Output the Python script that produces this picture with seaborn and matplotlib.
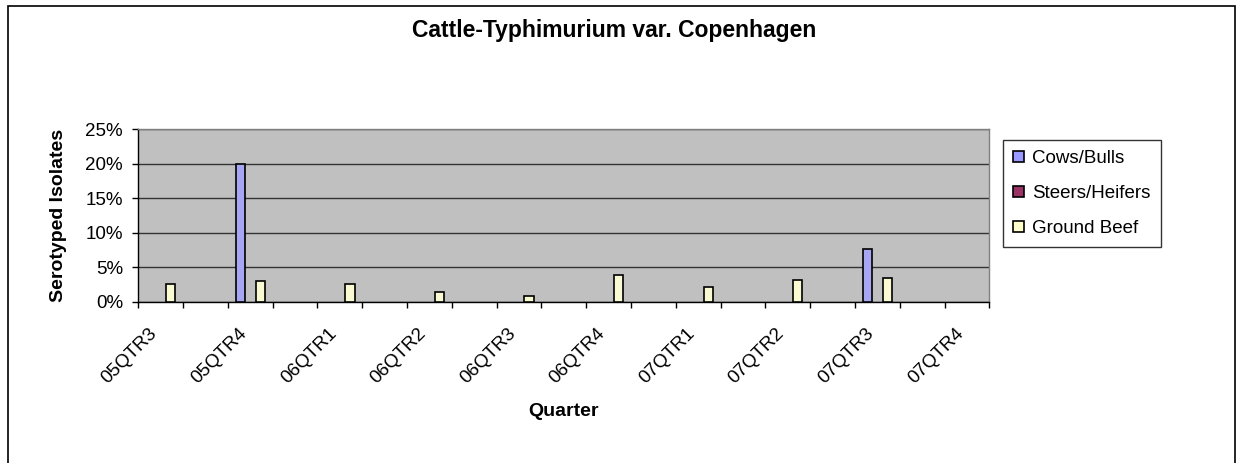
import matplotlib
matplotlib.use("Agg")
import pandas as pd
import matplotlib.pyplot as plt
import seaborn as sns
from matplotlib.patches import Patch, Rectangle
from matplotlib.ticker import PercentFormatter, FixedLocator
from matplotlib.transforms import ScaledTranslation

# ------------------------------
# data (percent of serotyped isolates)

QUARTERS = ["05QTR3", "05QTR4", "06QTR1", "06QTR2", "06QTR3",
            "06QTR4", "07QTR1", "07QTR2", "07QTR3", "07QTR4"]
SERIES = ["Cows/Bulls", "Steers/Heifers", "Ground Beef"]
COWS_BULLS = [0, 20.0, 0, 0, 0, 0, 0, 0, 7.7, 0]
STEERS_HEIFERS = [0, 0, 0, 0, 0, 0, 0, 0, 0, 0]
GROUND_BEEF = [2.5, 3.0, 2.5, 1.4, 0.8, 3.8, 2.2, 3.2, 3.5, 0]
Y_TICKS = [0, 5, 10, 15, 20, 25]

# ------------------------------

COLORS = {
    "Cows/Bulls": "#9999ff",
    "Steers/Heifers": "#993366",
    "Ground Beef": "#ffffcc",
}
PLOT_BG = "#c0c0c0"
GRID = "#333333"

DPI = 100
FIGSIZE = (1236 / DPI, 463 / DPI)

sns.set_style("white")
plt.rcParams["font.family"] = ["Liberation Sans", "DejaVu Sans"]
plt.rcParams["text.color"] = "black"
plt.rcParams["axes.labelcolor"] = "black"
plt.rcParams["xtick.color"] = "black"
plt.rcParams["ytick.color"] = "black"


def build_frame():
    rows = []
    for name, vals in zip(SERIES, [COWS_BULLS, STEERS_HEIFERS, GROUND_BEEF]):
        for q, v in zip(QUARTERS, vals):
            rows.append({"Quarter": q, "Series": name, "Value": v})
    return pd.DataFrame(rows)


def main():
    df = build_frame()

    # excel left an empty slot between each quarter
    order = []
    for i, q in enumerate(QUARTERS):
        order.append(q)
        if i < len(QUARTERS) - 1:
            order.append(f"gap{i}")

    fig = plt.figure(figsize=FIGSIZE, dpi=DPI)
    ax = fig.add_axes([138.3 / 1236, 1 - 301.7 / 463, 851 / 1236, 172.7 / 463])
    ax.set_facecolor(PLOT_BG)

    sns.barplot(data=df, x="Quarter", y="Value", hue="Series", order=order,
                hue_order=SERIES, palette=COLORS, width=0.67, gap=0.07,
                edgecolor="black", linewidth=1.2, legend=False, ax=ax, zorder=3)
    # hide zero bars
    for p in ax.patches:
        if p.get_height() == 0:
            p.set_visible(False)

    ax.set_xlim(-0.5, len(order) - 0.5)
    ax.set_ylim(0, 25)
    ax.yaxis.set_major_locator(FixedLocator(Y_TICKS))
    ax.yaxis.set_major_formatter(PercentFormatter(100, decimals=0))
    ax.grid(axis="y", color=GRID, linewidth=1, zorder=1)
    ax.set_axisbelow(True)

    label_pos = [order.index(q) for q in QUARTERS]
    ax.set_xticks(label_pos)
    ax.set_xticklabels(QUARTERS, rotation=45, ha="right", va="center",
                       rotation_mode="anchor", fontsize=13.5)
    ax.set_xticks([i - 0.5 for i in range(len(order) + 1)], minor=True)
    ax.tick_params(axis="x", which="major", length=0, pad=21)
    ax.tick_params(axis="x", which="minor", length=4, width=1, color="black",
                   direction="out", bottom=True)
    shift = ScaledTranslation(-0.06, 0, fig.dpi_scale_trans)
    for lbl in ax.get_xticklabels():
        lbl.set_transform(lbl.get_transform() + shift)

    ax.tick_params(axis="y", length=4, width=1, color="black", direction="out",
                   left=True, pad=7, labelsize=13.5)

    for side in ["left", "bottom"]:
        ax.spines[side].set_color("black")
        ax.spines[side].set_linewidth(1)
    for side in ["top", "right"]:
        ax.spines[side].set_visible(True)
        ax.spines[side].set_color("#808080")
        ax.spines[side].set_linewidth(1)

    ax.set_xlabel("Quarter", fontsize=14, fontweight="bold", va="top")
    ax.xaxis.set_label_coords(0.5, -0.585)
    ax.set_ylabel("Serotyped Isolates", fontsize=14, fontweight="bold")
    ax.yaxis.set_label_coords(-0.084, 0.5)

    fig.text(614 / 1236, 1 - 31 / 463, "Cattle-Typhimurium var. Copenhagen",
             ha="center", va="center", fontsize=16.5, fontweight="bold")

    handles = [Patch(facecolor=COLORS[s], edgecolor="black", linewidth=1.2) for s in SERIES]
    leg = fig.legend(handles, SERIES, loc="upper left",
                     bbox_to_anchor=(1003 / 1236, 1 - 140 / 463),
                     fontsize=13.5, frameon=True, fancybox=False, shadow=False,
                     handlelength=0.55, handleheight=0.55, handletextpad=0.45,
                     labelspacing=0.95, borderpad=0.55, borderaxespad=0)
    leg.get_frame().set_edgecolor("black")
    leg.get_frame().set_linewidth(1)

    # chart border
    fig.patches.append(Rectangle((8 / 1236, -0.02), 1227 / 1236, 1.02 - 6 / 463,
                                 transform=fig.transFigure, fill=False,
                                 edgecolor="black", linewidth=1.2))

    fig.savefig("out.png", dpi=DPI)
    plt.close(fig)


if __name__ == "__main__":
    main()
